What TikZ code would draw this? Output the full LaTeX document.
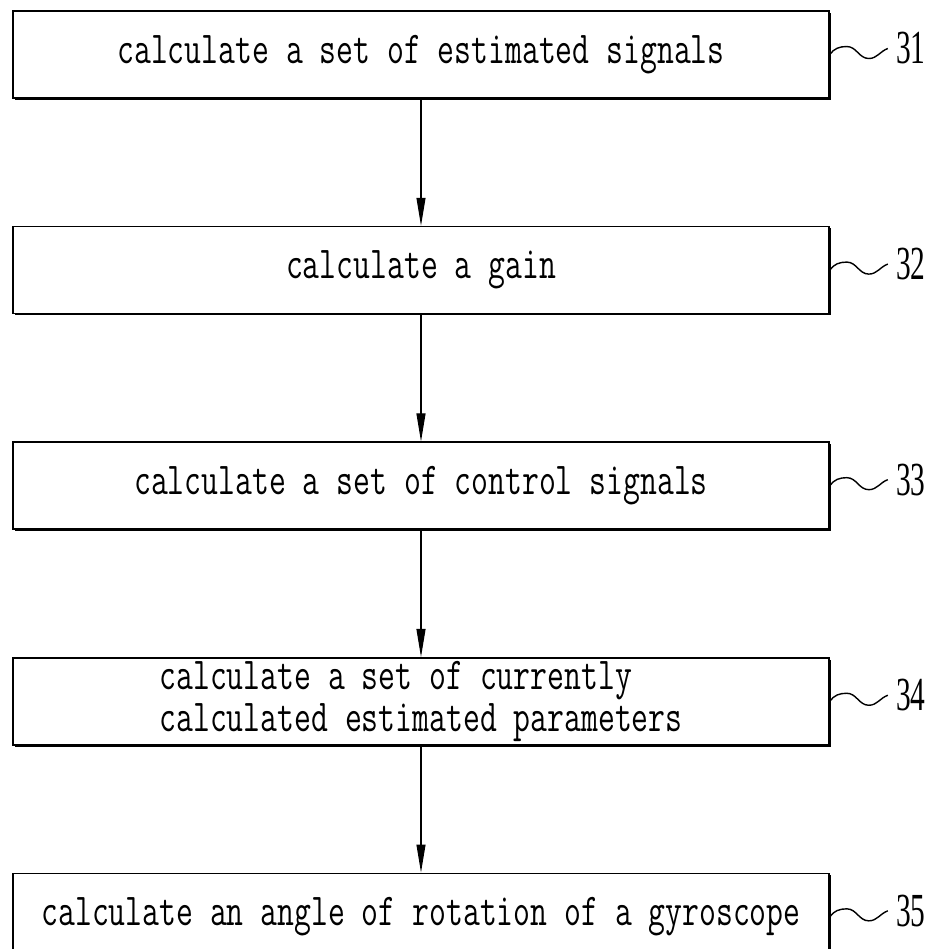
\documentclass[tikz,border=0pt]{standalone}
\usepackage{fontspec}
\usepackage{graphicx}
\usepackage{tikz}
\usetikzlibrary{arrows.meta,positioning,shadows}
\newfontfamily\numfont[FakeStretch=0.62]{Liberation Serif}
\newcommand{\narrow}[1]{\scalebox{.717}[1]{#1}}
\tikzset{
  stepbox/.style={draw=black,fill=white,line width=.9pt,minimum width=16.32cm,minimum height=1.74cm,align=center,inner xsep=.1cm,inner ysep=0cm,font=\ttfamily\fontsize{26pt}{24pt}\selectfont,drop shadow={shadow xshift=.035cm,shadow yshift=-.035cm,fill=black,opacity=1}},
  tag/.style={inner xsep=.16cm,inner ysep=0cm,font=\numfont\fontsize{27pt}{27pt}\selectfont},
  flow/.style={-{Triangle[length=.56cm,width=.18cm]},draw=black,line width=.6pt},
  lead/.style={draw=black,line width=.8pt}
}
\begin{document}
\begin{tikzpicture}[node distance=2.54cm]
  \useasboundingbox (0,0) rectangle (18.6,-18.98);
  \clip (0,0) rectangle (18.6,-18.98);
  \node[stepbox] (s1) at (8.42,-1.09) {\narrow{calculate a set of estimated signals}};
  \node[stepbox,below=of s1] (s2) {\narrow{calculate a gain}};
  \node[stepbox,below=of s2] (s3) {\narrow{calculate a set of control signals}};
  \node[stepbox,below=of s3,align=left] (s4) {\narrow{calculate a set of currently}\\\narrow{calculated estimated parameters}};
  \node[stepbox,below=of s4] (s5) {\narrow{calculate an angle of rotation of a gyroscope}};
  \node[tag,right=1.16cm of s1,yshift=.12cm] (t1) {31};
  \node[tag,right=1.16cm of s2,yshift=.12cm] (t2) {32};
  \node[tag,right=1.16cm of s3,yshift=.12cm] (t3) {33};
  \node[tag,right=1.16cm of s4,yshift=.12cm] (t4) {34};
  \node[tag,right=1.16cm of s5,yshift=.12cm] (t5) {35};
  \draw[flow] (s1) -- (s2);
  \draw[flow] (s2) -- (s3);
  \draw[flow] (s3) -- (s4);
  \draw[flow] (s4) -- (s5);
  \draw[lead] (s1.east) to[out=55,in=180] ++(.34,.16) to[out=0,in=180] ++(.44,-.24) to[out=0,in=200] (t1.west);
  \draw[lead] (s2.east) to[out=55,in=180] ++(.34,.16) to[out=0,in=180] ++(.44,-.24) to[out=0,in=200] (t2.west);
  \draw[lead] (s3.east) to[out=55,in=180] ++(.34,.16) to[out=0,in=180] ++(.44,-.24) to[out=0,in=200] (t3.west);
  \draw[lead] (s4.east) to[out=55,in=180] ++(.34,.16) to[out=0,in=180] ++(.44,-.24) to[out=0,in=200] (t4.west);
  \draw[lead] (s5.east) to[out=55,in=180] ++(.34,.16) to[out=0,in=180] ++(.44,-.24) to[out=0,in=200] (t5.west);
\end{tikzpicture}
\end{document}
